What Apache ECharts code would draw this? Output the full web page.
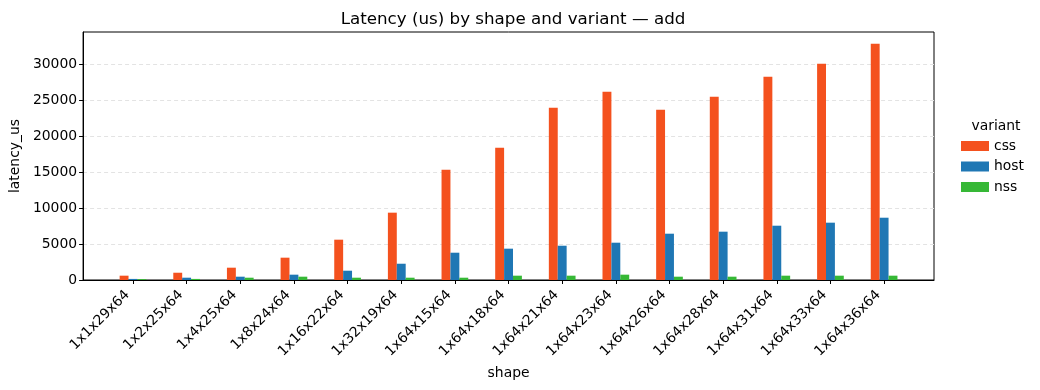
<!DOCTYPE html>
<html>
<head>
<meta charset="utf-8">
<script src="https://cdn.jsdelivr.net/npm/echarts@6/dist/echarts.min.js"></script>
<style>html,body{margin:0;padding:0;background:#fff}#c{width:1040px;height:390px}</style>
</head>
<body>
<div id="c"></div>
<script>
const categories = ["1x1x29x64","1x2x25x64","1x4x25x64","1x8x24x64","1x16x22x64","1x32x19x64","1x64x15x64","1x64x18x64","1x64x21x64","1x64x23x64","1x64x26x64","1x64x28x64","1x64x31x64","1x64x33x64","1x64x36x64"];
const css  = [600, 1010, 1710, 3100, 5600, 9350, 15320, 18375, 23930, 26150, 23650, 25460, 28240, 30040, 32820];
const host = [150, 320, 460, 740, 1290, 2260, 3790, 4350, 4760, 5180, 6430, 6710, 7540, 7960, 8650];
const nss  = [120, 150, 320, 460, 320, 320, 320, 600, 600, 740, 460, 460, 600, 600, 600];
const yTicks = [0, 5000, 10000, 15000, 20000, 25000, 30000];
const seriesNames = ["css", "host", "nss"];
const colors = ["#f4511e", "#1f77b4", "#36b836"];

const font = "DejaVu Sans";
const idx = categories.map((_, i) => i);
const mk = (name, vals, color) => ({
  name, type: 'bar', barWidth: 8.9, barGap: '0%',
  itemStyle: { color },
  data: vals.map((v, i) => [i, v])
});

const chart = echarts.init(document.getElementById('c'), null, { renderer: 'canvas' });
chart.setOption({
  animation: false,
  backgroundColor: '#fff',
  textStyle: { fontFamily: font },
  title: [
    { text: 'Latency (us) by shape and variant — add', left: 508, top: 6, textAlign: 'center',
      textStyle: { fontFamily: font, fontSize: 16.7, fontWeight: 'normal', color: '#000' } },
    { text: 'variant', left: 991, top: 114, textAlign: 'center',
      textStyle: { fontFamily: font, fontSize: 13.9, fontWeight: 'normal', color: '#000' } }
  ],
  legend: {
    data: seriesNames, orient: 'vertical', left: 956, top: 134,
    itemWidth: 28, itemHeight: 10, itemGap: 6.5, icon: 'rect',
    textStyle: { fontFamily: font, fontSize: 13.9, color: '#000' }
  },
  grid: { left: 83, right: 106, top: 32, bottom: 110, show: true, borderColor: '#000', borderWidth: 1, containLabel: false },
  xAxis: {
    type: 'value', min: -0.93, max: 14.93,
    name: 'shape', nameLocation: 'middle', nameGap: 86,
    nameTextStyle: { fontFamily: font, fontSize: 13.9, color: '#000' },
    axisLine: { show: true, onZero: false, lineStyle: { color: '#000', width: 1 } },
    axisTick: { show: true, customValues: idx, length: 4, lineStyle: { color: '#000' } },
    axisLabel: { customValues: idx, rotate: 45, formatter: v => categories[Math.round(v)] ?? '',
      fontFamily: font, fontSize: 13.9, color: '#000', margin: 7, padding: [0, 8, 0, 0] },
    splitLine: { show: false }
  },
  yAxis: {
    type: 'value', min: 0, max: 34440,
    name: 'latency_us', nameLocation: 'middle', nameGap: 58,
    nameTextStyle: { fontFamily: font, fontSize: 13.9, color: '#000' },
    axisLine: { show: true, onZero: false, lineStyle: { color: '#000', width: 1 } },
    axisTick: { show: true, customValues: yTicks, length: 4, lineStyle: { color: '#000' } },
    axisLabel: { customValues: yTicks, formatter: v => String(v), fontFamily: font, fontSize: 13.9, color: '#000', margin: 6 },
    splitLine: { show: true, customValues: yTicks, lineStyle: { color: '#e3e3e3', type: [4, 3], width: 1 } }
  },
  series: [mk('css', css, colors[0]), mk('host', host, colors[1]), mk('nss', nss, colors[2])]
});
</script>
</body>
</html>
